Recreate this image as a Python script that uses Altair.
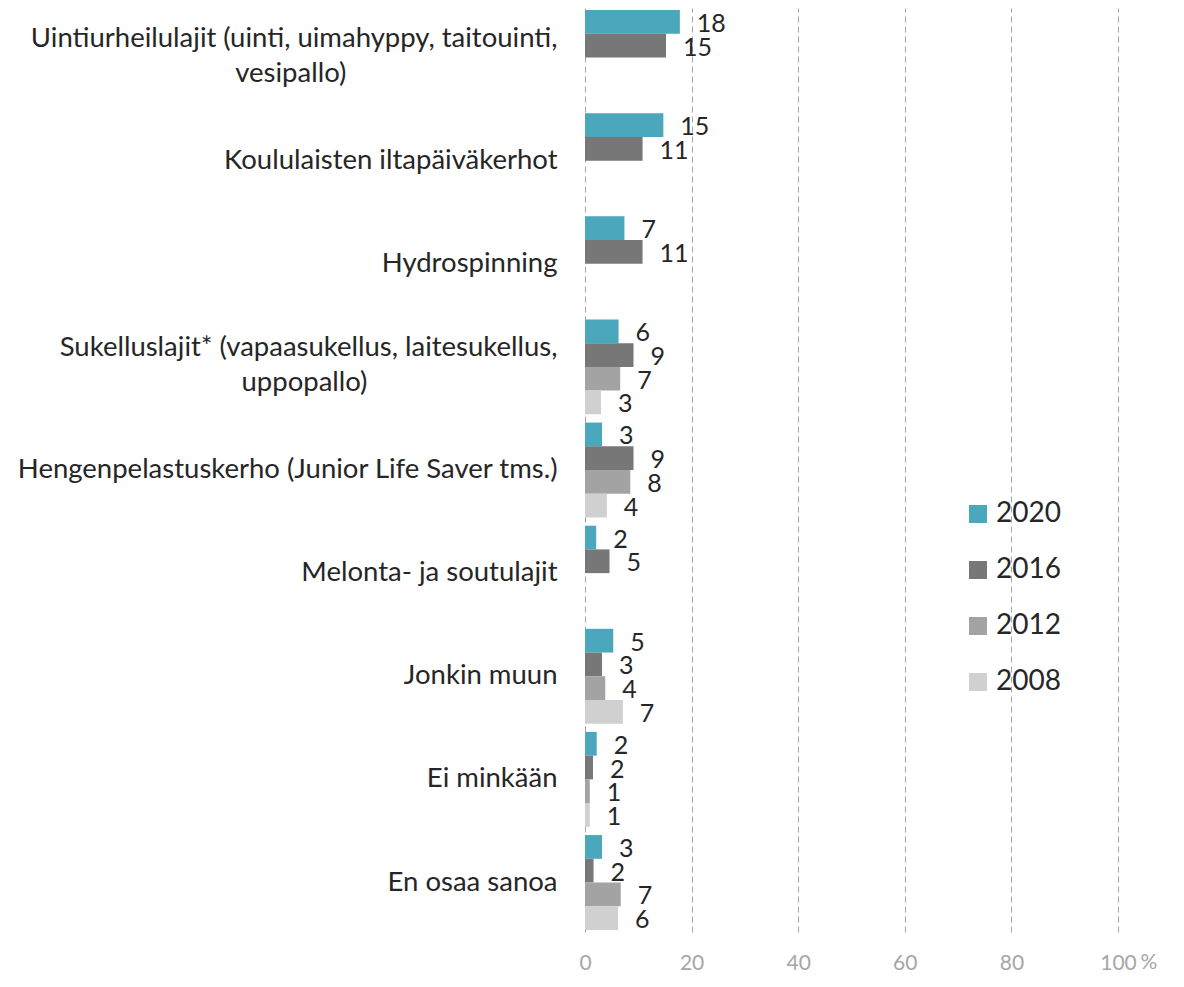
import altair as alt
import pandas as pd

categories = [
    "Uintiurheilulajit (uinti, uimahyppy, taitouinti,|vesipallo)",
    "Koululaisten iltapäiväkerhot",
    "Hydrospinning",
    "Sukelluslajit* (vapaasukellus, laitesukellus,|uppopallo)",
    "Hengenpelastuskerho (Junior Life Saver tms.)",
    "Melonta- ja soutulajit",
    "Jonkin muun",
    "Ei minkään",
    "En osaa sanoa",
]
years = ["2020", "2016", "2012", "2008"]
colors = ["#4BA7BB", "#777777", "#A3A3A3", "#D0D0D0"]

v2020 = [17.8, 14.7, 7.4, 6.3, 3.2, 2.1, 5.3, 2.2, 3.2]
v2016 = [15.2, 10.8, 10.8, 9.1, 9.1, 4.6, 3.2, 1.5, 1.6]
v2012 = [None, None, None, 6.6, 8.5, None, 3.8, 0.9, 6.7]
v2008 = [None, None, None, 3.0, 4.1, None, 7.1, 0.9, 6.2]

l2020 = [18, 15, 7, 6, 3, 2, 5, 2, 3]
l2016 = [15, 11, 11, 9, 9, 5, 3, 2, 2]
l2012 = [None, None, None, 7, 8, None, 4, 1, 7]
l2008 = [None, None, None, 3, 4, None, 7, 1, 6]

# centre the second line of two-line labels (axis labels are right-aligned)
NB = "\u00a0"
ZW = "\u200b"
pad = {0: 30, 3: 27}
display = []
for i, c in enumerate(categories):
    if i in pad:
        display.append(c + NB * pad[i] + ZW)
    else:
        display.append(c)

rows = []
for yr, vals, labs in zip(years, [v2020, v2016, v2012, v2008], [l2020, l2016, l2012, l2008]):
    for cat, v, l in zip(display, vals, labs):
        if v is not None:
            rows.append({"cat": cat, "year": yr, "value": v, "label": str(l)})
df = pd.DataFrame(rows)

FONT = "Lato"

y_enc = alt.Y(
    "cat:N",
    sort=display,
    scale=alt.Scale(paddingInner=0.08, paddingOuter=0.02),
    axis=alt.Axis(
        title=None,
        labelExpr="split(datum.label, '|')",
        labelFont=FONT,
        labelFontSize=27.5,
        labelColor="#262626",
        labelLineHeight=35,
        labelPadding=28,
        labelLimit=0,
        labelOffset=alt.condition("indexof(datum.value, '|') >= 0", alt.value(-19), alt.value(0)),
        ticks=False,
        domain=False,
    ),
)
x_enc = alt.X(
    "value:Q",
    scale=alt.Scale(domain=[0, 100], nice=False),
    axis=alt.Axis(
        values=[0, 20, 40, 60, 80, 100],
        grid=True,
        gridDash=[6, 4],
        gridColor="#A6A6A6",
        gridWidth=1,
        ticks=False,
        domain=False,
        labelFlush=False,
        labelFont=FONT,
        labelFontSize=21,
        labelColor="#A6A6A6",
        labelPadding=20,
        title="%",
        titleFont=FONT,
        titleFontSize=21,
        titleFontWeight="normal",
        titleColor="#A6A6A6",
        titleAlign="left",
        titleAnchor="start",
        titleX=555,
        titleY=30,
        titleBaseline="middle",
    ),
)
yoff = alt.YOffset("year:N", sort=years, scale=alt.Scale(domain=years, paddingInner=0, paddingOuter=0))

bars = alt.Chart(df).mark_bar().encode(
    x=x_enc,
    y=y_enc,
    yOffset=yoff,
    color=alt.Color(
        "year:N",
        scale=alt.Scale(domain=years, range=colors),
        legend=alt.Legend(
            title=None,
            orient="none",
            legendX=379,
            legendY=492,
            symbolType="square",
            symbolSize=324,
            symbolStrokeWidth=0,
            labelFont=FONT,
            labelFontSize=28,
            labelColor="#262626",
            labelOffset=4,
            rowPadding=28,
        ),
    ),
)

text = alt.Chart(df).mark_text(
    align="left", baseline="middle", dx=17, dy=2, font=FONT, fontSize=25, color="#262626"
).encode(
    x=alt.X("value:Q"),
    y=alt.Y("cat:N", sort=display),
    yOffset=yoff,
    text="label:N",
)

chart = (
    alt.layer(bars, text)
    .properties(
        width=533,
        height=924,
        autosize=alt.AutoSizeParams(type="none"),
        padding={"left": 577, "top": 0, "right": 50, "bottom": 46},
    )
    .configure_view(stroke=None)
)

chart.save("out.html", embed_options={"renderer": "svg", "actions": False})
